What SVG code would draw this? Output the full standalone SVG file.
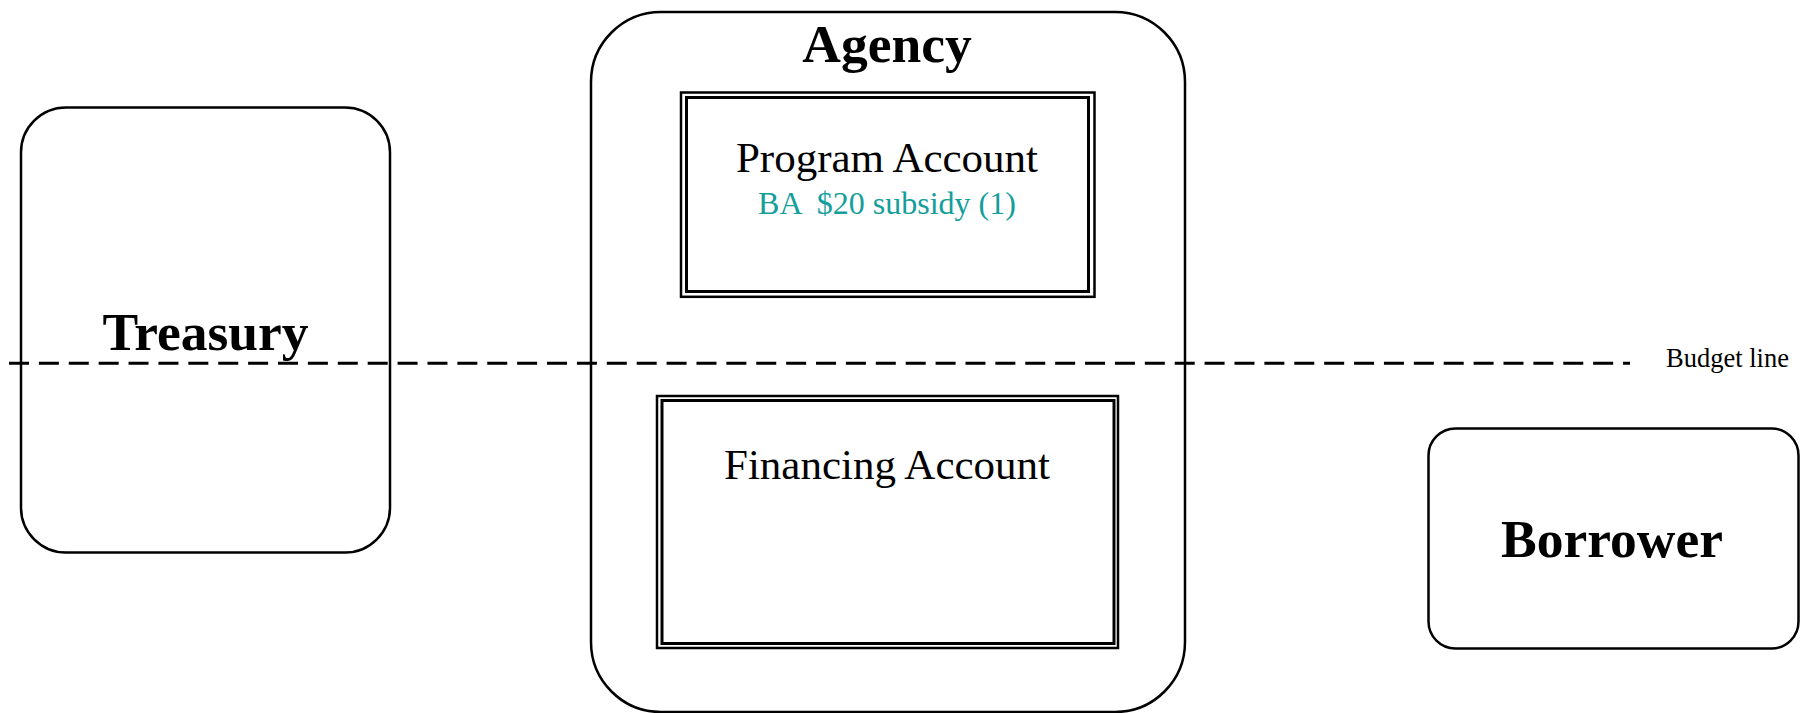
<svg xmlns="http://www.w3.org/2000/svg" width="1808" height="713" viewBox="0 0 1808 713">
  <style>
    .box { fill: #ffffff; stroke: #000000; stroke-width: 2.5; }
    .outer { fill: none; stroke: #000000; stroke-width: 2.5; }
    .inner { fill: none; stroke: #000000; stroke-width: 3; }
    .bold { font-family: "Liberation Serif", "Times New Roman", serif; font-weight: bold; font-size: 53.5px; fill: #000000; text-anchor: middle; }
    .acct { font-family: "Liberation Serif", "Times New Roman", serif; font-size: 43px; fill: #000000; text-anchor: middle; }
    .ba { font-family: "Liberation Serif", "Times New Roman", serif; font-size: 32px; fill: #139e9c; text-anchor: middle; }
    .small { font-family: "Liberation Serif", "Times New Roman", serif; font-size: 26.5px; fill: #000000; }
    .budget { fill: none; stroke: #000000; stroke-width: 3; stroke-dasharray: 20 9.89; }
  </style>
  <rect width="1808" height="713" fill="#ffffff"/>

  <g id="treasury">
    <rect class="box" x="21" y="107.5" width="369" height="445" rx="45" ry="45"/>
    <text class="bold" x="205.5" y="350">Treasury</text>
  </g>

  <g id="agency">
    <rect class="box" x="591" y="12" width="594" height="700" rx="70" ry="70"/>
    <text class="bold" x="887" y="62">Agency</text>
  </g>

  <g id="program-account">
    <rect class="outer" x="681" y="92.5" width="413.5" height="204.3"/>
    <rect class="inner" x="686.5" y="97.5" width="402" height="194"/>
    <text class="acct" x="887" y="172">Program Account</text>
    <text class="ba" x="887" y="213.5" xml:space="preserve">BA  $20 subsidy (1)</text>
  </g>

  <g id="financing-account">
    <rect class="outer" x="657" y="396" width="461" height="252"/>
    <rect class="inner" x="662" y="400.5" width="452" height="243"/>
    <text class="acct" x="887" y="478.5">Financing Account</text>
  </g>

  <g id="borrower">
    <rect class="box" x="1428.5" y="428.5" width="370" height="220" rx="27" ry="27"/>
    <text class="bold" x="1612" y="557">Borrower</text>
  </g>

  <g id="connectors">
    <line class="budget" x1="9" y1="363.3" x2="1630" y2="363.3"/>
  </g>

  <g id="budget-label">
    <text class="small" x="1666" y="366.7">Budget line</text>
  </g>
</svg>
